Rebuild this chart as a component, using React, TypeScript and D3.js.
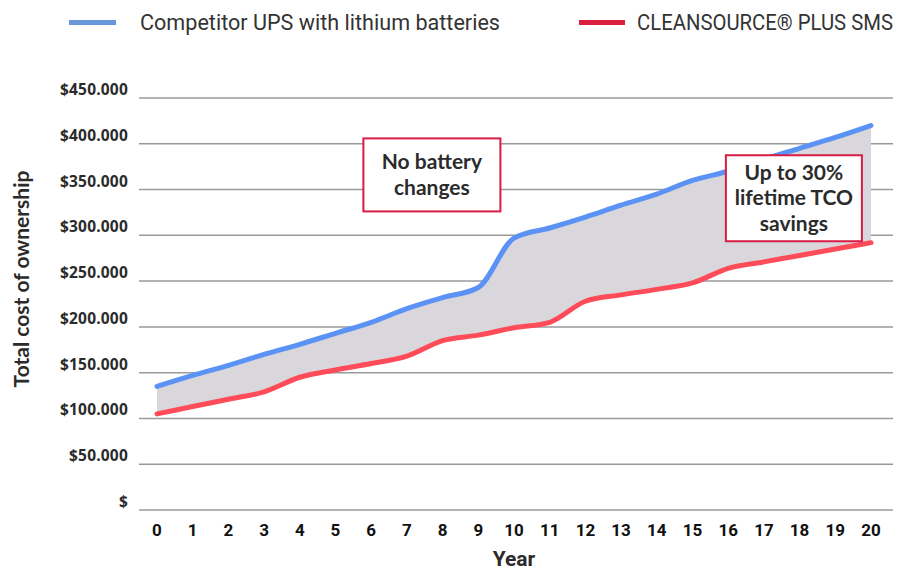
import React from "react";
import * as d3 from "d3";

const years = d3.range(0, 21);
const competitor = [135, 147, 158, 170, 181, 193, 205, 220, 232, 243, 297, 308, 320, 333, 345, 360, 370, 383, 395, 407, 420];
const cleansource = [105, 113, 121, 129, 145, 153, 160, 168, 185, 191, 199, 205, 228, 235, 241, 248, 264, 271, 278, 285, 292];
const yTicks = [0, 50, 100, 150, 200, 250, 300, 350, 400, 450];
const seriesNames = ["Competitor UPS with lithium batteries", "CLEANSOURCE® PLUS SMS"];
const notes = [
  { lines: ["No battery", "changes"], year: 7.7, value: 366, h: 73 },
  { lines: ["Up to 30%", "lifetime TCO", "savings"], year: 17.84, value: 340.5, h: 86 },
];

const W = 913;
const H = 570;
const BLUE = "#5b92f6";
const RED = "#ff4c58";
const CRIMSON = "#d91c43";

export default function App() {
  const x = d3.scaleLinear().domain([0, 20]).range([157, 871]);
  const y = d3.scaleLinear().domain([0, 450]).range([510, 98]);

  const rows = years.map((yr, i) => ({ yr, a: competitor[i], b: cleansource[i] }));

  const line = d3
    .line<{ yr: number; v: number }>()
    .x((d) => x(d.yr))
    .y((d) => y(d.v))
    .curve(d3.curveMonotoneX);

  const area = d3
    .area<{ yr: number; a: number; b: number }>()
    .x((d) => x(d.yr))
    .y0((d) => y(d.b))
    .y1((d) => y(d.a))
    .curve(d3.curveMonotoneX);

  const boxFont = "Lato, 'Open Sans', sans-serif";

  return (
    <svg width={W} height={H} style={{ position: "absolute", left: 0, top: 0, background: "#fff" }}>
      {/* legend */}
      <g fontFamily="Roboto, sans-serif" fontSize={22} fill="#333">
        <rect x={69} y={20} width={47} height={5} fill="#6897da" />
        <text x={140} y={30} textLength={360} lengthAdjust="spacingAndGlyphs">
          {seriesNames[0]}
        </text>
        <rect x={579} y={20} width={46} height={5} fill="#d9203f" />
        <text x={637} y={30} textLength={256} lengthAdjust="spacingAndGlyphs">
          {seriesNames[1]}
        </text>
      </g>

      {/* grid + y labels */}
      {yTicks.map((t) => (
        <g key={t}>
          <line x1={139} x2={893} y1={y(t)} y2={y(t)} stroke="#9a9a9a" strokeWidth={1.5} />
          <text
            x={128}
            y={y(t) - 3}
            textAnchor="end"
            fontFamily="'Open Sans', Lato, sans-serif"
            fontWeight={700}
            fontSize={15.5}
            letterSpacing={0.2}
            fill="#2b2b2b"
          >
            {t === 0 ? "$" : `$${t}.000`}
          </text>
        </g>
      ))}

      <path d={area(rows) || ""} fill="#d9d7dc" />
      <path
        d={line(rows.map((r) => ({ yr: r.yr, v: r.a }))) || ""}
        fill="none"
        stroke={BLUE}
        strokeWidth={5}
        strokeLinecap="round"
      />
      <path
        d={line(rows.map((r) => ({ yr: r.yr, v: r.b }))) || ""}
        fill="none"
        stroke={RED}
        strokeWidth={5}
        strokeLinecap="round"
      />

      {/* x ticks */}
      {years.map((yr) => (
        <text
          key={yr}
          x={x(yr)}
          y={536}
          textAnchor="middle"
          fontFamily="Roboto, sans-serif"
          fontWeight={700}
          fontSize={17}
          fill="#111"
        >
          {yr}
        </text>
      ))}
      <text
        x={x(10)}
        y={566}
        textAnchor="middle"
        fontFamily="Roboto, sans-serif"
        fontWeight={700}
        fontSize={21}
        fill="#2b2b2b"
      >
        Year
      </text>
      <text
        transform={`translate(29,${279}) rotate(-90)`}
        textAnchor="middle"
        fontFamily={boxFont}
        fontWeight={700}
        fontSize={21}
        fill="#2b2b2b"
      >
        Total cost of ownership
      </text>

      {/* annotations */}
      {notes.map((n, i) => {
        const cx = x(n.year);
        const cy = y(n.value);
        const lh = 25.5;
        const bw = i === 0 ? 137 : 136;
        const bh = n.h;
        return (
          <g key={i}>
            <rect
              x={cx - bw / 2}
              y={cy - bh / 2}
              width={bw}
              height={bh}
              fill="#fff"
              stroke={CRIMSON}
              strokeWidth={2}
            />
            {n.lines.map((s, j) => (
              <text
                key={j}
                x={cx}
                y={cy - ((n.lines.length - 1) * lh) / 2 + j * lh + 7}
                textAnchor="middle"
                fontFamily={boxFont}
                fontWeight={700}
                fontSize={21}
                fill="#2b2b2b"
              >
                {s}
              </text>
            ))}
          </g>
        );
      })}
    </svg>
  );
}
